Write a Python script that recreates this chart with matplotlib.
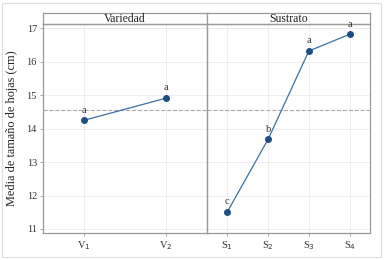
import matplotlib.pyplot as plt
from matplotlib.patches import Rectangle

plt.rcParams['font.family'] = ['Liberation Serif', 'DejaVu Serif']

variedad = ['V$_1$', 'V$_2$']
variedad_media = [14.25, 14.91]
variedad_letras = ['a', 'a']

sustrato = ['S$_1$', 'S$_2$', 'S$_3$', 'S$_4$']
sustrato_media = [11.51, 13.68, 16.32, 16.82]
sustrato_letras = ['c', 'b', 'a', 'a']

media_general = 14.57

line_color = '#3b6fa8'
point_color = '#1f4e85'
edge = '#9a9a9a'

fig = plt.figure(figsize=(3.89, 2.60), dpi=100)
fig.patches.append(Rectangle((0.006, 0.012), 0.974, 0.976, transform=fig.transFigure,
                             fill=False, edgecolor='#dddddd', lw=0.8))

left, right, bottom, top = 0.111, 0.951, 0.104, 0.908
mid = 0.532
strip_h = 0.042

ax1 = fig.add_axes([left, bottom, mid - left, top - bottom])
ax2 = fig.add_axes([mid, bottom, right - mid, top - bottom], sharey=ax1)

panels = [(ax1, variedad, variedad_media, variedad_letras, 'Variedad'),
          (ax2, sustrato, sustrato_media, sustrato_letras, 'Sustrato')]

for ax, cats, vals, letras, titulo in panels:
    x = list(range(len(cats)))
    ax.axhline(media_general, color='#aaaaaa', ls='--', lw=0.8, zorder=1)
    ax.plot(x, vals, color=line_color, lw=0.9, zorder=2)
    ax.plot(x, vals, 'o', color=point_color, ms=4, zorder=3)
    for xi, v, l in zip(x, vals, letras):
        ax.text(xi, v + 0.17, l, ha='center', va='bottom', fontsize=7.5,
                color='#333333', clip_on=False, zorder=5)
    ax.set_xlim(-0.5, len(cats) - 0.5)
    ax.set_xticks(x)
    ax.set_xticklabels(cats, fontsize=8)
    ax.grid(True, color='#ebebeb', lw=0.6)
    ax.set_axisbelow(True)
    for s in ax.spines.values():
        s.set_color(edge)
        s.set_linewidth(0.9)
    ax.tick_params(colors='#333333', length=2.5, width=0.6, labelsize=7.5, pad=2)
    ax.tick_params(axis='both', color=edge)
    # strip
    sax = fig.add_axes([ax.get_position().x0, top, ax.get_position().width, strip_h])
    sax.set_xticks([])
    sax.set_yticks([])
    for s in sax.spines.values():
        s.set_color(edge)
        s.set_linewidth(0.9)
    sax.text(0.5, 0.45, titulo, ha='center', va='center', fontsize=8.5, color='#222222')
    sax.set_zorder(1)
    ax.set_zorder(2)
    ax.patch.set_alpha(0)

ax1.set_ylim(10.88, 17.13)
ax1.set_yticks([11, 12, 13, 14, 15, 16, 17])
ax2.tick_params(axis='y', left=False, labelleft=False)
ax1.set_ylabel('Media de tamaño de hojas (cm)', fontsize=8.8, color='#222222', labelpad=6)

fig.savefig('out.png', dpi=100)
